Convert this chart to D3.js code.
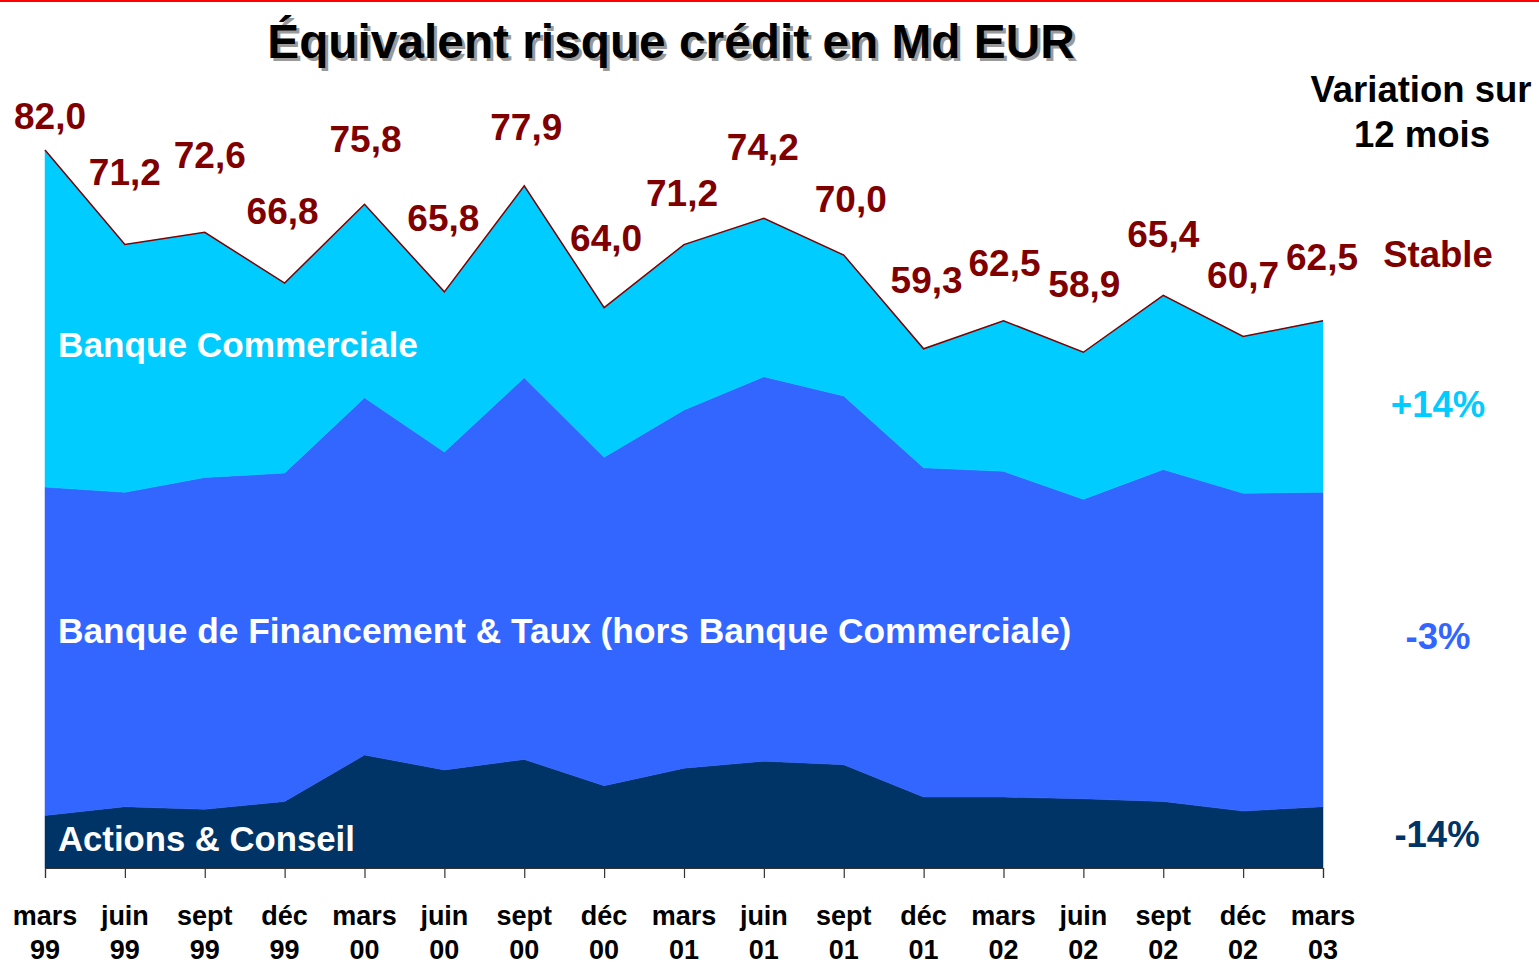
<!DOCTYPE html>
<html>
<head>
<meta charset="utf-8">
<script src="https://cdn.jsdelivr.net/npm/d3@7"></script>
<style>
  html, body { margin: 0; padding: 0; background: #ffffff; }
  svg { display: block; }
  text { font-family: "Liberation Sans", Arial, Helvetica, sans-serif; font-weight: bold; }
</style>
</head>
<body>
<svg id="chart" width="1539" height="965"></svg>
<script>
// ---- Data ----
const months = ["mars","juin","sept","déc","mars","juin","sept","déc","mars","juin","sept","déc","mars","juin","sept","déc","mars"];
const years  = ["99","99","99","99","00","00","00","00","01","01","01","01","02","02","02","02","03"];
const totals = [82.0,71.2,72.6,66.8,75.8,65.8,77.9,64.0,71.2,74.2,70.0,59.3,62.5,58.9,65.4,60.7,62.5];
const actions = [6.0,7.0,6.7,7.6,12.9,11.2,12.4,9.4,11.4,12.2,11.8,8.1,8.1,7.9,7.6,6.5,7.0];
const financement = [37.5,35.9,37.9,37.5,40.8,36.3,43.6,37.5,40.9,43.9,42.1,37.6,37.2,34.2,37.9,36.3,35.9];
const commerciale = [38.5,28.3,28.0,21.7,22.1,18.3,21.9,17.1,18.9,18.1,16.1,13.6,17.2,16.8,19.9,17.9,19.6];
const seriesNames = ["Actions & Conseil","Banque de Financement & Taux (hors Banque Commerciale)","Banque Commerciale"];
const variations = ["-14%","-3%","+14%"];
const totalVariation = "Stable";

// ---- Layout (label nudges in px, not data) ----
const labelDx = [5,0,5,-2,1,-1,2,2,-2,-1,7,3,1,1,0,0,-1];
const labelDy = [-34,-73,-77,-72,-65,-74,-59,-70,-52,-71,-56,-69,-58,-68,-61,-62,-64];

const colors = ["#003366","#3366FF","#00CCFF"];
const dark = "#800000";

const svg = d3.select("#chart");
const W = 1539, H = 965;
const x0 = 45, x1 = 1323, yBase = 868, yTop = 150;

const cats = months.map((m, i) => i);
const x = d3.scalePoint().domain(cats).range([x0, x1]);
const y = d3.scaleLinear().domain([0, 82]).range([yBase, yTop]);

// top red rule
svg.append("rect").attr("x", 0).attr("y", 0).attr("width", W).attr("height", 2).attr("fill", "#ff0000");

// stack
const rows = cats.map(i => ({ i, a: actions[i], f: financement[i], c: commerciale[i] }));
const stack = d3.stack().keys(["a","f","c"])(rows);
const area = d3.area().x(d => x(d.data.i)).y0(d => y(d[0])).y1(d => y(d[1]));

svg.append("g").selectAll("path").data(stack).join("path")
  .attr("d", area)
  .attr("fill", (d, k) => colors[k])
  .attr("stroke", (d, k) => colors[k])
  .attr("stroke-width", 0.5);

// total line
const line = d3.line().x(d => x(d.data.i)).y(d => y(d[1]));
svg.append("path").datum(stack[2]).attr("d", line)
  .attr("fill", "none").attr("stroke", dark).attr("stroke-width", 1.5);

// axis
const axis = d3.axisBottom(x).tickSize(10).tickFormat(() => "");
const gAxis = svg.append("g").attr("transform", `translate(0,${yBase})`).call(axis);
gAxis.select(".domain").attr("stroke", "#333").attr("stroke-width", 1.2);
gAxis.selectAll(".tick line").attr("stroke", "#333").attr("stroke-width", 1.2);

const gLab = svg.append("g");
cats.forEach(i => {
  gLab.append("text").attr("x", x(i)).attr("y", 925).attr("text-anchor", "middle")
    .attr("font-size", 27).attr("fill", "#000").text(months[i]);
  gLab.append("text").attr("x", x(i)).attr("y", 959).attr("text-anchor", "middle")
    .attr("font-size", 27).attr("fill", "#000").text(years[i]);
});

// total value labels
const fmt = v => v.toFixed(1).replace(".", ",");
svg.append("g").selectAll("text").data(cats).join("text")
  .attr("x", i => x(i) + labelDx[i])
  .attr("y", i => y(totals[i]) + labelDy[i] + 13)
  .attr("text-anchor", "middle")
  .attr("font-size", 37)
  .attr("fill", dark)
  .text(i => fmt(totals[i]));

// title with shadow
const title = "Équivalent risque crédit en Md EUR";
svg.append("text").attr("x", 674).attr("y", 61).attr("text-anchor", "middle")
  .attr("font-size", 47.8).attr("fill", "#9a9a9a").text(title);
svg.append("text").attr("x", 671).attr("y", 58).attr("text-anchor", "middle")
  .attr("font-size", 47.8).attr("fill", "#000").text(title);

// series labels inside areas
svg.append("text").attr("x", 58).attr("y", 357).attr("font-size", 35.2).attr("fill", "#fff").text(seriesNames[2]);
svg.append("text").attr("x", 58).attr("y", 643).attr("font-size", 35.3).attr("fill", "#fff").text(seriesNames[1]);
svg.append("text").attr("x", 58).attr("y", 851).attr("font-size", 34.7).attr("fill", "#fff").text(seriesNames[0]);

// right side: variation header & values
svg.append("text").attr("x", 1421).attr("y", 102).attr("text-anchor", "middle")
  .attr("font-size", 36.5).attr("fill", "#000").text("Variation sur");
svg.append("text").attr("x", 1422).attr("y", 147).attr("text-anchor", "middle")
  .attr("font-size", 36.5).attr("fill", "#000").text("12 mois");

svg.append("text").attr("x", 1438).attr("y", 267).attr("text-anchor", "middle")
  .attr("font-size", 36.5).attr("fill", dark).text(totalVariation);
svg.append("text").attr("x", 1438).attr("y", 417).attr("text-anchor", "middle")
  .attr("font-size", 36.5).attr("fill", colors[2]).text(variations[2]);
svg.append("text").attr("x", 1438).attr("y", 649).attr("text-anchor", "middle")
  .attr("font-size", 36.5).attr("fill", colors[1]).text(variations[1]);
svg.append("text").attr("x", 1437).attr("y", 847).attr("text-anchor", "middle")
  .attr("font-size", 36.5).attr("fill", colors[0]).text(variations[0]);
</script>
</body>
</html>
